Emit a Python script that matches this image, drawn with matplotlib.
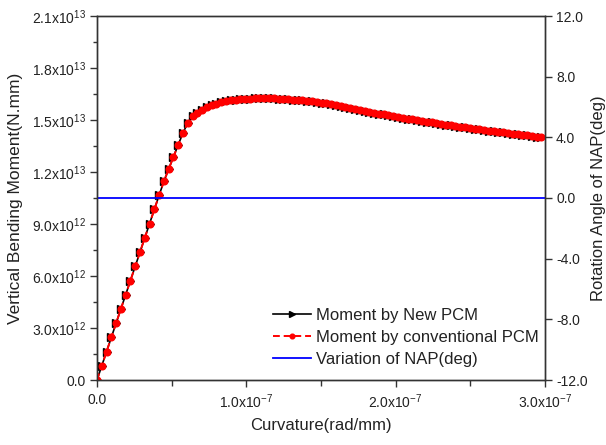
import matplotlib
matplotlib.use("Agg")
import matplotlib.pyplot as plt
from matplotlib.ticker import FixedLocator, FuncFormatter, MultipleLocator

plt.rcParams["font.family"] = ["Liberation Sans", "DejaVu Sans"]
plt.rcParams["mathtext.fontset"] = "custom"
plt.rcParams["mathtext.rm"] = "Liberation Sans"
plt.rcParams["mathtext.it"] = "Liberation Sans:italic"
plt.rcParams["mathtext.bf"] = "Liberation Sans:bold"

# Curvature increments (x 1e-9 rad/mm)
curvature_e9 = [
    0.0, 3.2, 6.4, 9.6, 12.8, 16.0, 19.2, 22.4, 25.6, 28.8,
    32.0, 35.2, 38.4, 41.6, 44.8, 48.0, 51.2, 54.4, 57.6, 60.8,
    64.0, 67.2, 70.4, 73.6, 76.8, 80.0, 83.2, 86.4, 89.6, 92.8,
    96.0, 99.2, 102.4, 105.6, 108.8, 112.0, 115.2, 118.4, 121.6, 124.8,
    128.0, 131.2, 134.4, 137.6, 140.8, 144.0, 147.2, 150.4, 153.6, 156.8,
    160.0, 163.2, 166.4, 169.6, 172.8, 176.0, 179.2, 182.4, 185.6, 188.8,
    192.0, 195.2, 198.4, 201.6, 204.8, 208.0, 211.2, 214.4, 217.6, 220.8,
    224.0, 227.2, 230.4, 233.6, 236.8, 240.0, 243.2, 246.4, 249.6, 252.8,
    256.0, 259.2, 262.4, 265.6, 268.8, 272.0, 275.2, 278.4, 281.6, 284.8,
    288.0, 291.2, 294.4, 297.6,
]

# Vertical bending moment, new progressive collapse method (x 1e12 N.mm)
moment_new_e12 = [
    0.00, 0.82, 1.64, 2.46, 3.28, 4.10, 4.92, 5.74, 6.56, 7.38,
    8.20, 9.02, 9.84, 10.66, 11.46, 12.17, 12.87, 13.57, 14.26, 14.84,
    15.22, 15.43, 15.59, 15.73, 15.85, 15.95, 16.03, 16.09, 16.14, 16.17,
    16.20, 16.22, 16.24, 16.25, 16.26, 16.26, 16.26, 16.25, 16.24, 16.22,
    16.20, 16.18, 16.16, 16.14, 16.11, 16.08, 16.04, 16.00, 15.96, 15.91,
    15.86, 15.81, 15.75, 15.70, 15.64, 15.59, 15.53, 15.48, 15.42, 15.37,
    15.32, 15.27, 15.22, 15.17, 15.12, 15.08, 15.03, 14.99, 14.94, 14.90,
    14.86, 14.81, 14.77, 14.73, 14.69, 14.65, 14.61, 14.57, 14.54, 14.50,
    14.46, 14.43, 14.39, 14.35, 14.32, 14.28, 14.25, 14.21, 14.18, 14.14,
    14.11, 14.07, 14.04, 14.00,
]

# Vertical bending moment, conventional progressive collapse method (x 1e12 N.mm)
moment_conv_e12 = [
    0.00, 0.82, 1.64, 2.46, 3.28, 4.10, 4.92, 5.74, 6.56, 7.38,
    8.20, 9.02, 9.84, 10.66, 11.46, 12.17, 12.87, 13.57, 14.26, 14.84,
    15.22, 15.43, 15.59, 15.73, 15.85, 15.95, 16.03, 16.09, 16.14, 16.17,
    16.20, 16.22, 16.24, 16.25, 16.26, 16.26, 16.26, 16.25, 16.24, 16.22,
    16.20, 16.18, 16.16, 16.14, 16.11, 16.08, 16.04, 16.00, 15.96, 15.91,
    15.86, 15.81, 15.75, 15.70, 15.64, 15.59, 15.53, 15.48, 15.42, 15.37,
    15.32, 15.27, 15.22, 15.17, 15.12, 15.08, 15.03, 14.99, 14.94, 14.90,
    14.86, 14.81, 14.77, 14.73, 14.69, 14.65, 14.61, 14.57, 14.54, 14.50,
    14.46, 14.43, 14.39, 14.35, 14.32, 14.28, 14.25, 14.21, 14.18, 14.14,
    14.11, 14.07, 14.04, 14.00,
]

# Neutral axis plane rotation (deg)
nap_curvature = [0.0, 3.0e-7]
nap_angle = [0.0, 0.0]

x_ticks = [0.0, 1.0e-7, 2.0e-7, 3.0e-7]
x_tick_labels = ["0.0", r"1.0x10$^{-7}$", r"2.0x10$^{-7}$", r"3.0x10$^{-7}$"]
y_ticks = [0.0, 3.0e12, 6.0e12, 9.0e12, 1.2e13, 1.5e13, 1.8e13, 2.1e13]
y_tick_labels = ["0.0", r"3.0x10$^{12}$", r"6.0x10$^{12}$", r"9.0x10$^{12}$",
                 r"1.2x10$^{13}$", r"1.5x10$^{13}$", r"1.8x10$^{13}$", r"2.1x10$^{13}$"]
y2_ticks = [-12.0, -8.0, -4.0, 0.0, 4.0, 8.0, 12.0]

curv = [c * 1e-9 for c in curvature_e9]
m_new = [m * 1e12 for m in moment_new_e12]
m_conv = [m * 1e12 for m in moment_conv_e12]

W, H = 606, 445
fig = plt.figure(figsize=(W / 100, H / 100), dpi=100)
ax = fig.add_axes([97 / W, 1 - 380 / H, (545 - 97) / W, (380 - 16) / H])
ax2 = ax.twinx()

spine_c = "#333333"
text_c = "#222222"

h1, = ax.plot(curv, m_new, color="black", lw=1.2, marker=">", ms=5.5,
              mfc="black", mec="black", label="Moment by New PCM", zorder=3)
h2, = ax.plot(curv, m_conv, color="red", lw=1.4, ls=(0, (3.5, 2)), marker="o",
              ms=4.8, mfc="red", mec="red", label="Moment by conventional PCM",
              zorder=4)
h3, = ax2.plot(nap_curvature, nap_angle, color="blue", lw=1.3,
               label="Variation of NAP(deg)")

ax.set_xlim(0, 3.0e-7)
ax.set_ylim(0, 2.1e13)
ax2.set_ylim(-12, 12)

ax.xaxis.set_major_locator(FixedLocator(x_ticks))
ax.set_xticklabels(x_tick_labels)
ax.xaxis.set_minor_locator(MultipleLocator(0.5e-7))
ax.yaxis.set_major_locator(FixedLocator(y_ticks))
ax.set_yticklabels(y_tick_labels)
ax.yaxis.set_minor_locator(MultipleLocator(1.5e12))
ax2.yaxis.set_major_locator(FixedLocator(y2_ticks))
ax2.yaxis.set_major_formatter(FuncFormatter(lambda v, p: f"{v:.1f}"))

for a in (ax, ax2):
    for s in a.spines.values():
        s.set_color(spine_c)
        s.set_linewidth(1.0)

ax.tick_params(axis="both", which="major", direction="out", length=5,
               width=1.0, color=spine_c, labelsize=10, labelcolor=text_c, pad=3)
ax.tick_params(axis="x", which="minor", direction="out", length=4,
               width=1.0, color=spine_c)
ax.tick_params(axis="y", which="minor", direction="out", length=3,
               width=1.0, color=spine_c)
ax.tick_params(axis="x", pad=4)
ax2.tick_params(axis="y", which="major", direction="out", length=5, width=1.0,
                color=spine_c, labelsize=10, labelcolor=text_c, pad=3)

ax.set_xlabel("Curvature(rad/mm)", fontsize=12, color=text_c, labelpad=5)
ax.set_ylabel("Vertical Bending Moment(N.mm)", fontsize=12.5, color=text_c,
              labelpad=6)
fig.text(599 / W, 1 - 198 / H, "Rotation Angle of NAP(deg)", rotation=90,
         ha="center", va="center", fontsize=12, color=text_c)

leg = ax2.legend(handles=[h1, h2, h3], loc="upper left",
                 bbox_to_anchor=(273 / W, 1 - 308 / H),
                 bbox_transform=fig.transFigure, frameon=False, fontsize=12,
                 borderpad=0, borderaxespad=0, handlelength=2.3,
                 handletextpad=0.3, labelspacing=0.42, markerscale=0.7)
for t in leg.get_texts():
    t.set_color(text_c)

fig.savefig("out.png", dpi=100)
